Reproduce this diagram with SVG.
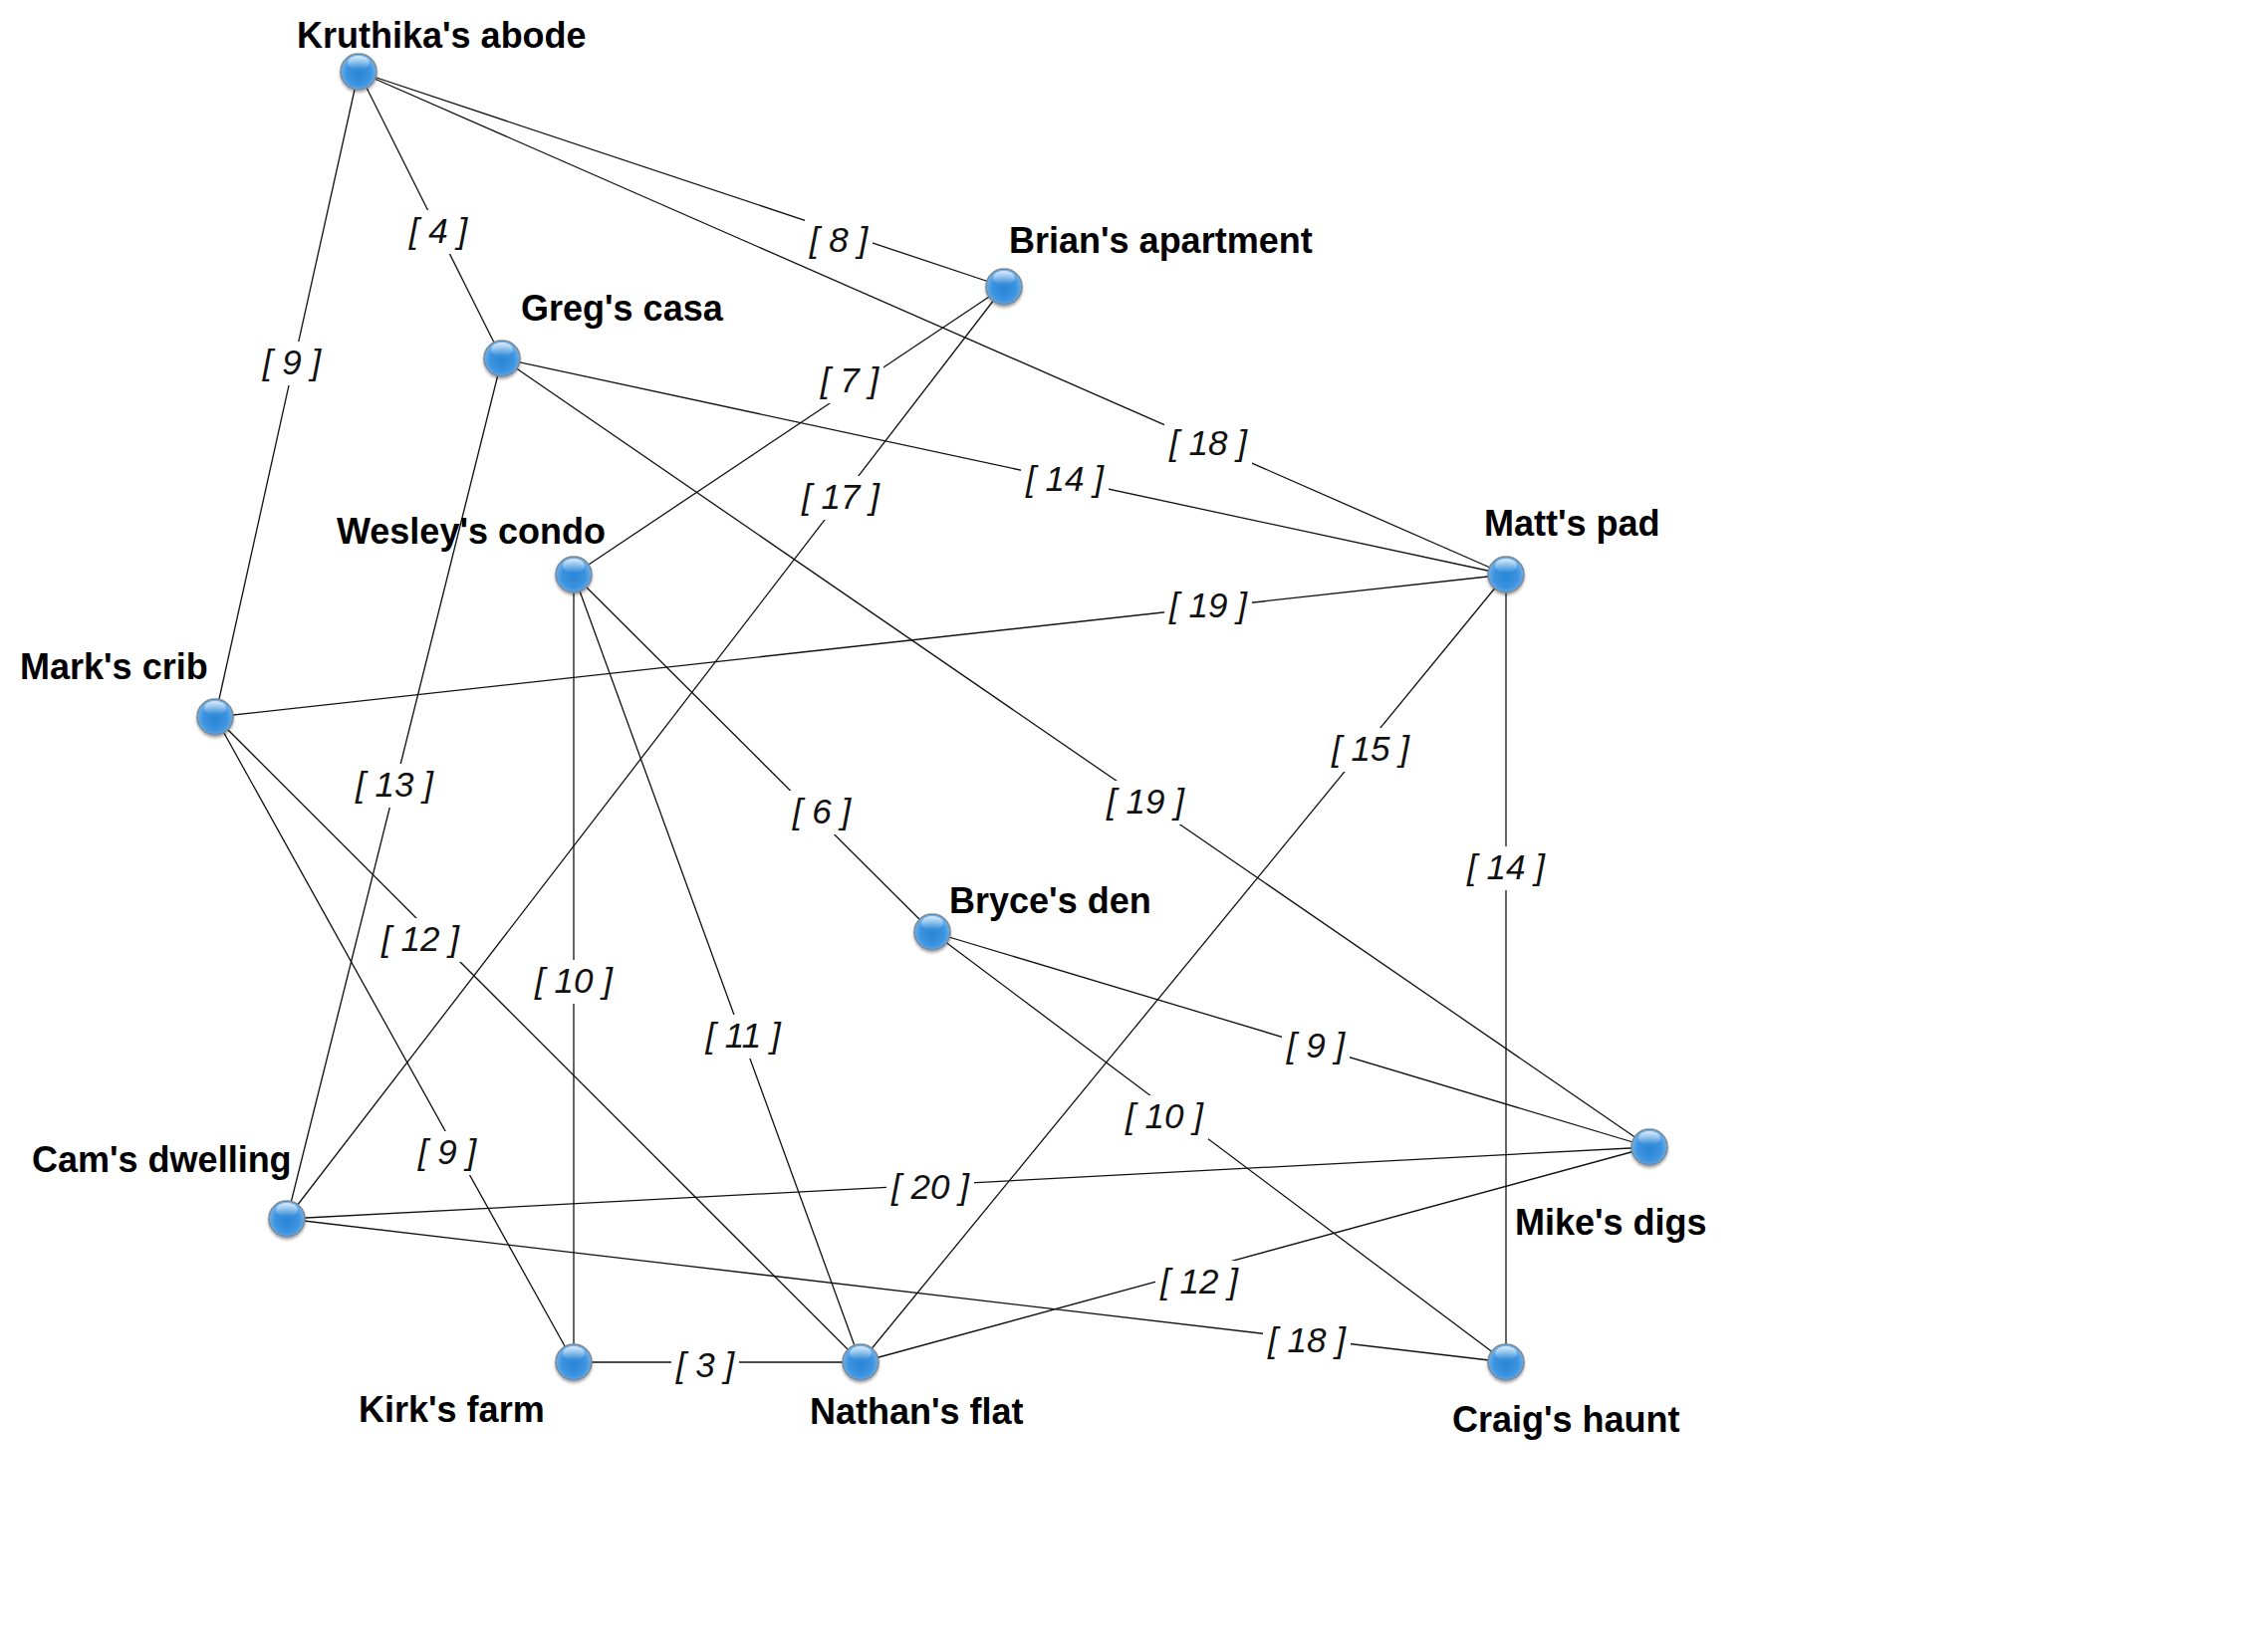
<svg xmlns="http://www.w3.org/2000/svg" width="2268" height="1659" viewBox="0 0 2268 1659">
<style>
.edge{stroke:#111;stroke-width:1.3;fill:none}
.lbg{fill:#fff}
.elab{font-family:"Liberation Sans",Arial,sans-serif;font-style:italic;font-size:35px;fill:#111;text-anchor:middle}
.nlab{font-family:"Liberation Sans",Arial,sans-serif;font-weight:bold;font-size:36px;fill:#000}
.ball{fill:url(#gBall);stroke:#7d8896;stroke-width:1.5;filter:url(#shadow)}
.hl{fill:url(#gHl)}
</style>
<defs>
<radialGradient id="gBall" cx="50%" cy="55%" r="55%">
<stop offset="0%" stop-color="#2a86d8"/>
<stop offset="60%" stop-color="#3c93df"/>
<stop offset="100%" stop-color="#79b8ee"/>
</radialGradient>
<linearGradient id="gHl" x1="0" y1="0" x2="0" y2="1">
<stop offset="0%" stop-color="#ffffff" stop-opacity="0.75"/>
<stop offset="100%" stop-color="#ffffff" stop-opacity="0"/>
</linearGradient>
<filter id="shadow" x="-50%" y="-50%" width="200%" height="200%">
<feDropShadow dx="0" dy="2" stdDeviation="1.8" flood-color="#000" flood-opacity="0.35"/>
</filter>
</defs>
<rect width="2268" height="1659" fill="#fff"/>
<g id="connectors">
<line class="edge" x1="360" y1="72" x2="504" y2="360"/>
<line class="edge" x1="360" y1="72" x2="1008" y2="288"/>
<line class="edge" x1="360" y1="72" x2="1512" y2="577"/>
<line class="edge" x1="360" y1="72" x2="216" y2="720"/>
<line class="edge" x1="1008" y1="288" x2="576" y2="577"/>
<line class="edge" x1="1008" y1="288" x2="288" y2="1224"/>
<line class="edge" x1="504" y1="360" x2="1512" y2="577"/>
<line class="edge" x1="504" y1="360" x2="1656" y2="1152"/>
<line class="edge" x1="504" y1="360" x2="288" y2="1224"/>
<line class="edge" x1="216" y1="720" x2="1512" y2="577"/>
<line class="edge" x1="576" y1="577" x2="936" y2="936"/>
<line class="edge" x1="576" y1="577" x2="576" y2="1368"/>
<line class="edge" x1="576" y1="577" x2="864" y2="1368"/>
<line class="edge" x1="216" y1="720" x2="864" y2="1368"/>
<line class="edge" x1="216" y1="720" x2="576" y2="1368"/>
<line class="edge" x1="1512" y1="577" x2="864" y2="1368"/>
<line class="edge" x1="1512" y1="577" x2="1512" y2="1368"/>
<line class="edge" x1="936" y1="936" x2="1656" y2="1152"/>
<line class="edge" x1="936" y1="936" x2="1512" y2="1368"/>
<line class="edge" x1="288" y1="1224" x2="1656" y2="1152"/>
<line class="edge" x1="288" y1="1224" x2="1512" y2="1368"/>
<line class="edge" x1="864" y1="1368" x2="1656" y2="1152"/>
<line class="edge" x1="576" y1="1368" x2="864" y2="1368"/>
</g>
<g id="connector-labels">
<rect class="lbg" x="406" y="211" width="68" height="44"/><text class="elab" x="440" y="244">[ 4 ]</text>
<rect class="lbg" x="808" y="220" width="68" height="44"/><text class="elab" x="842" y="253">[ 8 ]</text>
<rect class="lbg" x="1169" y="424" width="88" height="44"/><text class="elab" x="1213" y="457">[ 18 ]</text>
<rect class="lbg" x="259" y="343" width="68" height="44"/><text class="elab" x="293" y="376">[ 9 ]</text>
<rect class="lbg" x="819" y="361" width="68" height="44"/><text class="elab" x="853" y="394">[ 7 ]</text>
<rect class="lbg" x="800" y="478" width="88" height="44"/><text class="elab" x="844" y="511">[ 17 ]</text>
<rect class="lbg" x="1025" y="460" width="88" height="44"/><text class="elab" x="1069" y="493">[ 14 ]</text>
<rect class="lbg" x="1106" y="784" width="88" height="44"/><text class="elab" x="1150" y="817">[ 19 ]</text>
<rect class="lbg" x="352" y="767" width="88" height="44"/><text class="elab" x="396" y="800">[ 13 ]</text>
<rect class="lbg" x="1169" y="587" width="88" height="44"/><text class="elab" x="1213" y="620">[ 19 ]</text>
<rect class="lbg" x="791" y="794" width="68" height="44"/><text class="elab" x="825" y="827">[ 6 ]</text>
<rect class="lbg" x="532" y="964" width="88" height="44"/><text class="elab" x="576" y="997">[ 10 ]</text>
<rect class="lbg" x="702" y="1019" width="88" height="44"/><text class="elab" x="746" y="1052">[ 11 ]</text>
<rect class="lbg" x="378" y="922" width="88" height="44"/><text class="elab" x="422" y="955">[ 12 ]</text>
<rect class="lbg" x="415" y="1136" width="68" height="44"/><text class="elab" x="449" y="1169">[ 9 ]</text>
<rect class="lbg" x="1332" y="731" width="88" height="44"/><text class="elab" x="1376" y="764">[ 15 ]</text>
<rect class="lbg" x="1468" y="850" width="88" height="44"/><text class="elab" x="1512" y="883">[ 14 ]</text>
<rect class="lbg" x="1287" y="1029" width="68" height="44"/><text class="elab" x="1321" y="1062">[ 9 ]</text>
<rect class="lbg" x="1125" y="1100" width="88" height="44"/><text class="elab" x="1169" y="1133">[ 10 ]</text>
<rect class="lbg" x="890" y="1171" width="88" height="44"/><text class="elab" x="934" y="1204">[ 20 ]</text>
<rect class="lbg" x="1268" y="1325" width="88" height="44"/><text class="elab" x="1312" y="1358">[ 18 ]</text>
<rect class="lbg" x="1160" y="1266" width="88" height="44"/><text class="elab" x="1204" y="1299">[ 12 ]</text>
<rect class="lbg" x="674" y="1350" width="68" height="44"/><text class="elab" x="708" y="1383">[ 3 ]</text>
</g>
<g id="node-kruthika"><circle class="ball" cx="360" cy="72" r="18"/><ellipse class="hl" cx="360" cy="63" rx="11" ry="7"/><text class="nlab" x="298" y="48">Kruthika's abode</text></g>
<g id="node-brian"><circle class="ball" cx="1008" cy="288" r="18"/><ellipse class="hl" cx="1008" cy="279" rx="11" ry="7"/><text class="nlab" x="1013" y="254">Brian's apartment</text></g>
<g id="node-greg"><circle class="ball" cx="504" cy="360" r="18"/><ellipse class="hl" cx="504" cy="351" rx="11" ry="7"/><text class="nlab" x="523" y="322">Greg's casa</text></g>
<g id="node-wesley"><circle class="ball" cx="576" cy="577" r="18"/><ellipse class="hl" cx="576" cy="568" rx="11" ry="7"/><text class="nlab" x="338" y="546">Wesley's condo</text></g>
<g id="node-matt"><circle class="ball" cx="1512" cy="577" r="18"/><ellipse class="hl" cx="1512" cy="568" rx="11" ry="7"/><text class="nlab" x="1490" y="538">Matt's pad</text></g>
<g id="node-mark"><circle class="ball" cx="216" cy="720" r="18"/><ellipse class="hl" cx="216" cy="711" rx="11" ry="7"/><text class="nlab" x="20" y="682">Mark's crib</text></g>
<g id="node-bryce"><circle class="ball" cx="936" cy="936" r="18"/><ellipse class="hl" cx="936" cy="927" rx="11" ry="7"/><text class="nlab" x="953" y="917">Bryce's den</text></g>
<g id="node-mike"><circle class="ball" cx="1656" cy="1152" r="18"/><ellipse class="hl" cx="1656" cy="1143" rx="11" ry="7"/><text class="nlab" x="1521" y="1240">Mike's digs</text></g>
<g id="node-cam"><circle class="ball" cx="288" cy="1224" r="18"/><ellipse class="hl" cx="288" cy="1215" rx="11" ry="7"/><text class="nlab" x="32" y="1177">Cam's dwelling</text></g>
<g id="node-kirk"><circle class="ball" cx="576" cy="1368" r="18"/><ellipse class="hl" cx="576" cy="1359" rx="11" ry="7"/><text class="nlab" x="360" y="1428">Kirk's farm</text></g>
<g id="node-nathan"><circle class="ball" cx="864" cy="1368" r="18"/><ellipse class="hl" cx="864" cy="1359" rx="11" ry="7"/><text class="nlab" x="813" y="1430">Nathan's flat</text></g>
<g id="node-craig"><circle class="ball" cx="1512" cy="1368" r="18"/><ellipse class="hl" cx="1512" cy="1359" rx="11" ry="7"/><text class="nlab" x="1458" y="1438">Craig's haunt</text></g>
</svg>
